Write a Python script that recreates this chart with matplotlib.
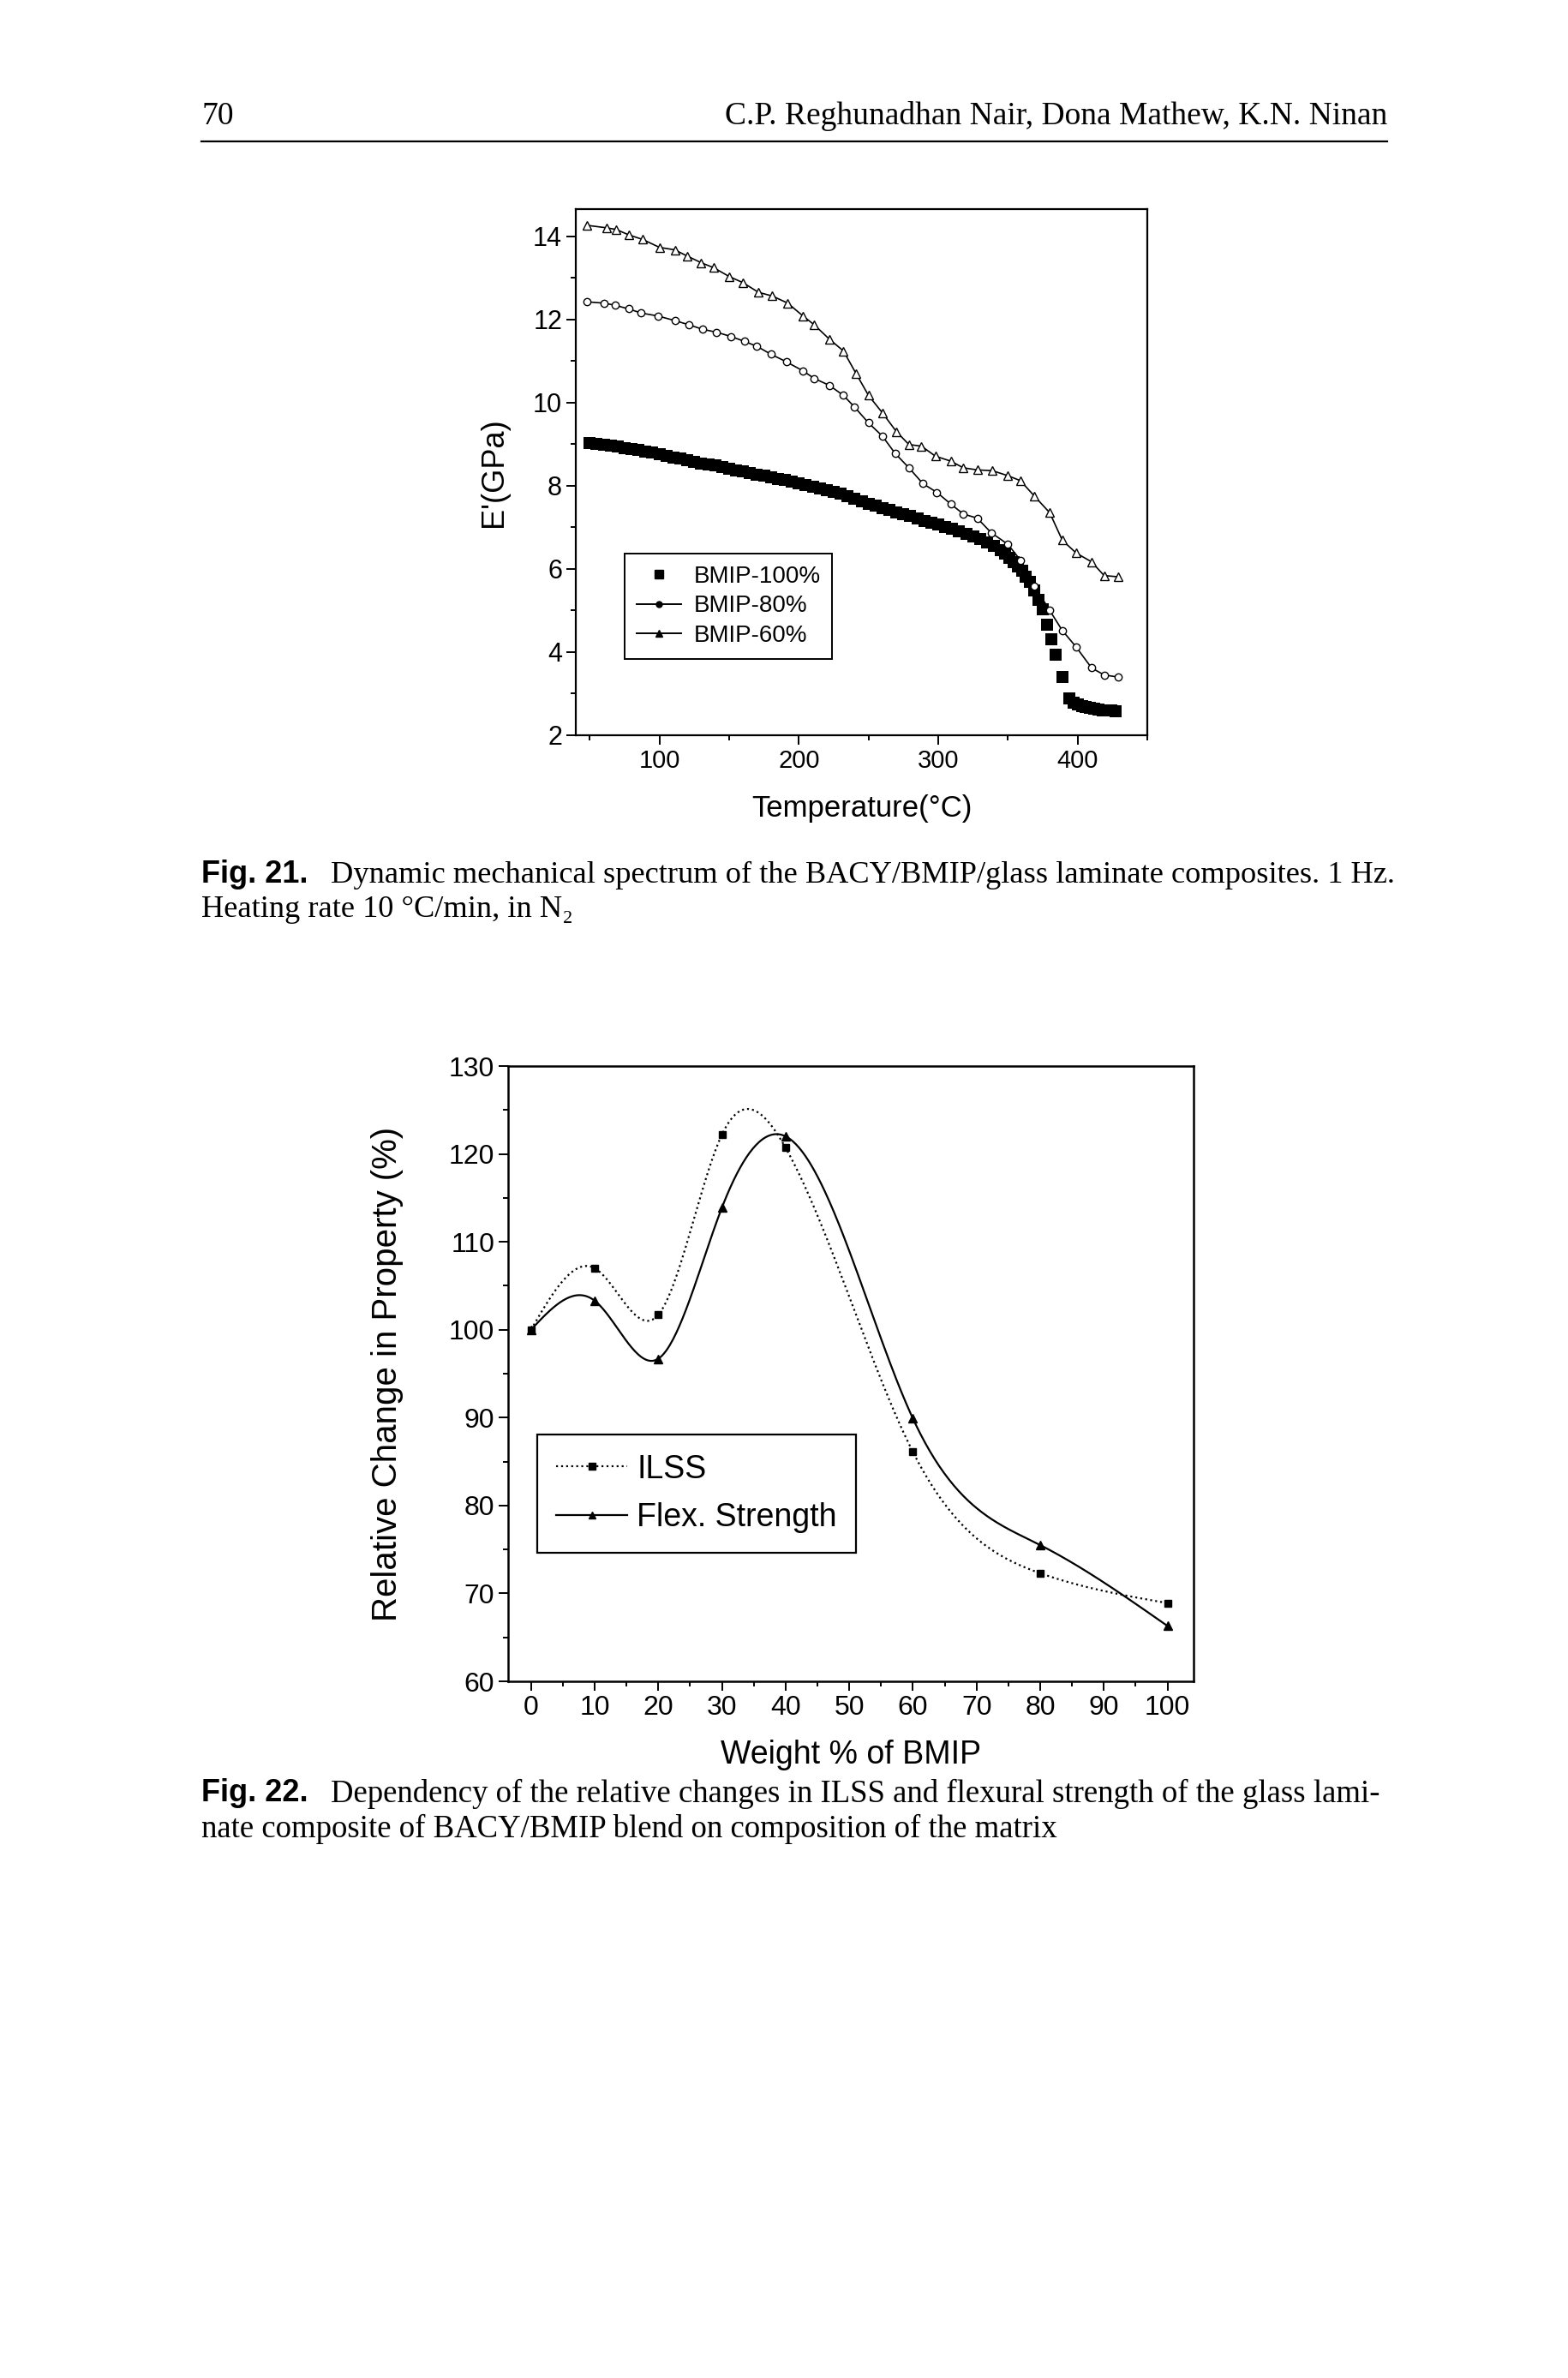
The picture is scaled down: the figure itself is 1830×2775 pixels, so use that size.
import matplotlib
matplotlib.use('Agg')
import matplotlib.pyplot as plt
import numpy as np
from matplotlib.lines import Line2D
from matplotlib.ticker import MultipleLocator

# ---- Fig. 21 data: storage modulus vs temperature ----
t_60 = [48, 62, 69, 78, 88, 100, 111, 120, 130, 139, 150, 160, 171, 181, 192, 203,
        211, 222, 232, 241, 250, 260, 270, 279, 288, 298, 309, 318, 328, 339, 350,
        359, 369, 380, 389, 399, 410, 419, 429]
e_60 = [14.26, 14.20, 14.16, 14.03, 13.92, 13.73, 13.67, 13.52, 13.36, 13.24, 13.03,
        12.88, 12.65, 12.56, 12.39, 12.08, 11.87, 11.52, 11.24, 10.70, 10.17, 9.75,
        9.30, 8.99, 8.95, 8.71, 8.59, 8.43, 8.38, 8.36, 8.24, 8.12, 7.75, 7.35, 6.69,
        6.38, 6.17, 5.84, 5.81]

t_80 = [48, 60, 68, 78, 87, 99, 111, 121, 131, 141, 151, 161, 170, 180, 191, 203,
        211, 222, 232, 240, 250, 260, 269, 279, 289, 299, 309, 318, 328, 338, 350,
        359, 369, 380, 389, 399, 410, 419, 429]
e_80 = [12.42, 12.39, 12.34, 12.25, 12.15, 12.08, 11.97, 11.87, 11.76, 11.69, 11.59,
        11.47, 11.35, 11.16, 10.98, 10.76, 10.58, 10.41, 10.17, 9.89, 9.51, 9.19,
        8.78, 8.43, 8.05, 7.84, 7.56, 7.32, 7.22, 6.87, 6.59, 6.21, 5.59, 5.00, 4.52,
        4.12, 3.62, 3.45, 3.40]

t_100 = [50, 55, 60, 65, 70, 75, 80, 85, 90, 95, 100, 105, 110, 115, 120, 125, 130,
         135, 140, 145, 150, 155, 160, 165, 170, 175, 180, 185, 190, 195, 200, 205,
         210, 215, 220, 225, 230, 235, 240, 245, 250, 255, 260, 265, 270, 275, 280,
         285, 290, 295, 300, 305, 310, 315, 320, 325, 330, 335, 340, 345, 348, 351,
         354, 357, 360, 363, 366, 369, 372, 375, 378, 381, 384, 389, 394, 397, 400,
         403, 406, 409, 412, 415, 418, 421, 424, 427]
e_100 = [9.02, 9.00, 8.98, 8.96, 8.94, 8.91, 8.89, 8.86, 8.82, 8.79, 8.75, 8.71, 8.68,
         8.65, 8.61, 8.58, 8.54, 8.51, 8.48, 8.44, 8.41, 8.37, 8.34, 8.31, 8.27, 8.24,
         8.21, 8.17, 8.14, 8.10, 8.06, 8.02, 7.98, 7.94, 7.89, 7.85, 7.80, 7.75, 7.69,
         7.63, 7.57, 7.52, 7.46, 7.41, 7.36, 7.32, 7.27, 7.22, 7.16, 7.11, 7.06, 7.01,
         6.96, 6.90, 6.84, 6.78, 6.72, 6.64, 6.55, 6.44, 6.36, 6.27, 6.17, 6.05, 5.95,
         5.82, 5.68, 5.48, 5.25, 5.02, 4.65, 4.30, 3.93, 3.41, 2.88, 2.78, 2.74, 2.71,
         2.68, 2.66, 2.63, 2.61, 2.60, 2.59, 2.59, 2.58]

# ---- Fig. 22 data: relative change vs BMIP content ----
bmip_wt = [0, 10, 20, 30, 40, 60, 80, 100]
ilss = [100, 107, 101.7, 122.2, 120.7, 86.1, 72.3, 68.9]
flex = [100, 103.3, 96.7, 113.9, 122.0, 89.9, 75.5, 66.3]

sans = ['Liberation Sans', 'DejaVu Sans']
serif = ['Liberation Serif', 'DejaVu Serif']


def natural_spline(x, y, n=400):
    # natural cubic spline, only used to draw the smooth connecting curve
    x = np.asarray(x, float)
    y = np.asarray(y, float)
    k = len(x)
    h = np.diff(x)
    A = np.zeros((k, k))
    b = np.zeros(k)
    A[0, 0] = A[-1, -1] = 1
    for i in range(1, k - 1):
        A[i, i - 1] = h[i - 1]
        A[i, i] = 2 * (h[i - 1] + h[i])
        A[i, i + 1] = h[i]
        b[i] = 6 * ((y[i + 1] - y[i]) / h[i] - (y[i] - y[i - 1]) / h[i - 1])
    M = np.linalg.solve(A, b)
    xs = np.linspace(x[0], x[-1], n)
    j = np.clip(np.searchsorted(x, xs) - 1, 0, k - 2)
    dx1 = x[j + 1] - xs
    dx0 = xs - x[j]
    hj = h[j]
    ys = (M[j] * dx1 ** 3 + M[j + 1] * dx0 ** 3) / (6 * hj) \
        + (y[j] / hj - M[j] * hj / 6) * dx1 + (y[j + 1] / hj - M[j + 1] * hj / 6) * dx0
    return xs, ys


fig = plt.figure(figsize=(18.31, 27.75), dpi=100)

# page header
fig.text(235 / 1831, 1 - 145 / 2775, '70', family=serif, fontsize=27, va='baseline')
fig.text(1619 / 1831, 1 - 145 / 2775, 'C.P. Reghunadhan Nair, Dona Mathew, K.N. Ninan',
         family=serif, fontsize=27, va='baseline', ha='right')
fig.add_artist(Line2D([235 / 1831, 1619 / 1831], [1 - 165 / 2775] * 2, color='black', lw=1.6))

# ---------------- Fig. 21 ----------------
ax1 = fig.add_axes([672 / 1831, 1 - 858 / 2775, 667 / 1831, 614 / 2775])
ax1.plot(t_100, e_100, 's', color='black', ms=10, mew=0)
ax1.plot(t_80, e_80, '-o', color='black', lw=1.2, ms=6, mfc='white', mec='black', mew=1)
ax1.plot(t_60, e_60, '-^', color='black', lw=1.2, ms=6.5, mfc='white', mec='black', mew=1)
ax1.set_xlim(40, 450)
ax1.set_ylim(2, 14.65)
ax1.xaxis.set_major_locator(MultipleLocator(100))
ax1.xaxis.set_minor_locator(MultipleLocator(50))
ax1.yaxis.set_major_locator(MultipleLocator(2))
ax1.yaxis.set_minor_locator(MultipleLocator(1))
ax1.tick_params(which='both', direction='out', width=1.4)
ax1.tick_params(axis='x', labelsize=21)
ax1.tick_params(axis='y', labelsize=22)
ax1.tick_params(which='major', length=8)
ax1.tick_params(which='minor', length=4)
for lab in ax1.get_xticklabels() + ax1.get_yticklabels():
    lab.set_family(sans)
for s in ax1.spines.values():
    s.set_linewidth(1.6)
ax1.set_xlabel('Temperature(°C)', family=sans, fontsize=25, labelpad=18)
ax1.set_ylabel("E'(GPa)", family=sans, fontsize=26, labelpad=20)

h1 = [Line2D([], [], ls='none', marker='s', color='black', ms=7),
      Line2D([], [], ls='-', marker='o', color='black', ms=5, lw=1.4),
      Line2D([], [], ls='-', marker='^', color='black', ms=6, lw=1.4)]
leg1 = ax1.legend(h1, ['BMIP-100%', 'BMIP-80%', 'BMIP-60%'], loc='upper left',
                  bbox_to_anchor=(0.085, 0.345), prop={'family': sans, 'size': 20},
                  fancybox=False, edgecolor='black', framealpha=1, handlelength=1.9,
                  borderpad=0.5, labelspacing=0.3, handletextpad=0.5, borderaxespad=0)
leg1.get_frame().set_linewidth(1.4)

fig.text(235 / 1831, 1 - 1021 / 2775, 'Fig. 21.', family=sans, fontweight='bold',
         fontsize=26, va='center')
fig.text(386 / 1831, 1 - 1021 / 2775,
         'Dynamic mechanical spectrum of the BACY/BMIP/glass laminate composites. 1 Hz.',
         family=serif, fontsize=26.2, va='center')
fig.text(235 / 1831, 1 - 1061 / 2775, 'Heating rate 10 °C/min, in N₂',
         family=serif, fontsize=26.2, va='center')

# ---------------- Fig. 22 ----------------
ax2 = fig.add_axes([593 / 1831, 1 - 1962 / 2775, 800 / 1831, 718 / 2775])
xs, ys = natural_spline(bmip_wt, ilss)
ax2.plot(xs, ys, ':', color='black', lw=1.6)
ax2.plot(bmip_wt, ilss, 's', color='black', ms=6)
xs, ys = natural_spline(bmip_wt, flex)
ax2.plot(xs, ys, '-', color='black', lw=1.6)
ax2.plot(bmip_wt, flex, '^', color='black', ms=7)
ax2.set_xlim(-3.6, 104.1)
ax2.set_ylim(60, 130)
ax2.xaxis.set_major_locator(MultipleLocator(10))
ax2.xaxis.set_minor_locator(MultipleLocator(5))
ax2.yaxis.set_major_locator(MultipleLocator(10))
ax2.yaxis.set_minor_locator(MultipleLocator(5))
ax2.tick_params(which='both', direction='out', width=1.4, labelsize=23)
ax2.tick_params(which='major', length=8)
ax2.tick_params(which='minor', length=4)
for lab in ax2.get_xticklabels() + ax2.get_yticklabels():
    lab.set_family(sans)
for s in ax2.spines.values():
    s.set_linewidth(1.8)
ax2.set_xlabel('Weight % of BMIP', family=sans, fontsize=27, labelpad=16)
ax2.set_ylabel('Relative Change in Property (%)', family=sans, fontsize=29, labelpad=38)

h2 = [Line2D([], [], ls=':', marker='s', color='black', ms=6, lw=1.6),
      Line2D([], [], ls='-', marker='^', color='black', ms=6, lw=1.6)]
leg2 = ax2.legend(h2, ['ILSS', 'Flex. Strength'], loc='upper left',
                  bbox_to_anchor=(0.0425, 0.401), prop={'family': sans, 'size': 27},
                  fancybox=False, edgecolor='black', framealpha=1, handlelength=2.2,
                  borderpad=0.6, labelspacing=0.55, handletextpad=0.3, borderaxespad=0)
leg2.get_frame().set_linewidth(1.6)

fig.text(235 / 1831, 1 - 2093 / 2775, 'Fig. 22.', family=sans, fontweight='bold',
         fontsize=26, va='center')
fig.text(386 / 1831, 1 - 2093 / 2775,
         'Dependency of the relative changes in ILSS and flexural strength of the glass lami-',
         family=serif, fontsize=26.5, va='center')
fig.text(235 / 1831, 1 - 2134 / 2775,
         'nate composite of BACY/BMIP blend on composition of the matrix',
         family=serif, fontsize=26.5, va='center')

fig.savefig('out.png', dpi=100, facecolor='white')
